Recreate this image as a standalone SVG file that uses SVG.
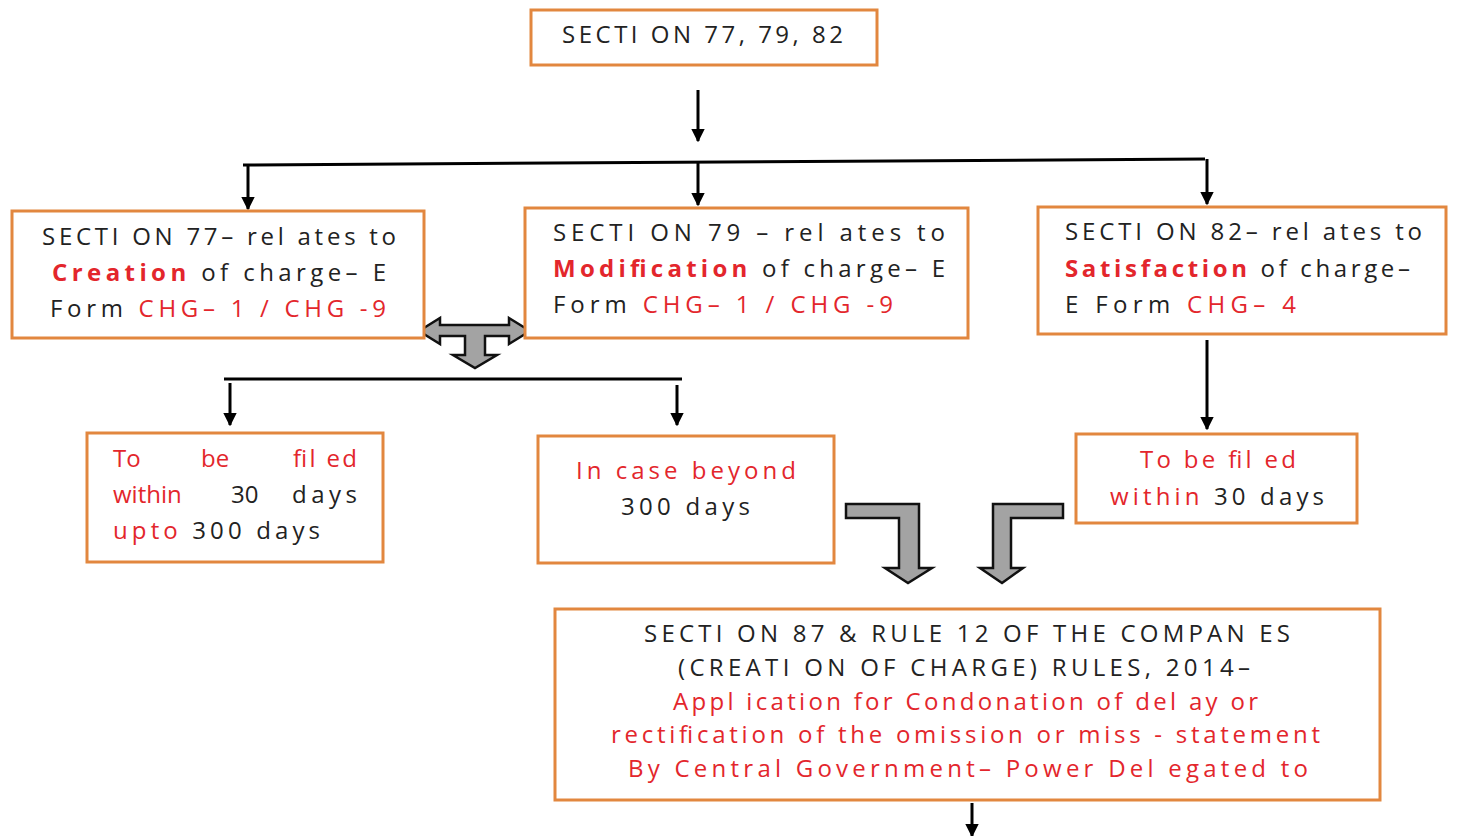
<svg xmlns="http://www.w3.org/2000/svg" width="1458" height="836" viewBox="0 0 1458 836">
<style>
.box{fill:#fff;stroke:#e2873f;stroke-width:3}
.t{font-family:"Open Sans","Liberation Sans",sans-serif;font-size:24px;fill:#222}
.r{fill:#e3262c}
.b{font-weight:bold}
.ln{stroke:#000;stroke-width:3;fill:none}
.ar{stroke:#000;stroke-width:3;fill:none;marker-end:url(#ah)}
.big{fill:#a3a3a3;stroke:#111;stroke-width:2.5;stroke-linejoin:miter}
</style>
<defs>
<marker id="ah" viewBox="0 0 10 10" refX="9" refY="5" markerWidth="4.5" markerHeight="4.5" orient="auto" markerUnits="strokeWidth">
<path d="M0,0 L10,5 L0,10 z" fill="#000"/>
</marker>
</defs>
<rect width="1458" height="836" fill="#fff"/>

<g id="connectors">
<line class="ar" x1="698" y1="90" x2="698" y2="141"/>
<line class="ln" x1="243" y1="165" x2="1205" y2="159"/>
<line class="ar" x1="248" y1="165" x2="248" y2="209"/>
<line class="ar" x1="698" y1="162" x2="698" y2="205"/>
<line class="ar" x1="1207" y1="159" x2="1207" y2="204"/>
<line class="ln" x1="224" y1="379" x2="682" y2="379"/>
<line class="ar" x1="230" y1="383" x2="230" y2="425"/>
<line class="ar" x1="677" y1="385" x2="677" y2="425"/>
<line class="ar" x1="1207" y1="340" x2="1207" y2="429"/>
<line class="ar" x1="972" y1="803" x2="972" y2="836"/>
<path class="big" d="M419,331 L440,318 L440,325 L509,325 L509,318 L530,331 L509,344 L509,336 L485,336 L485,355 L497,355 L475,368 L453,355 L465,355 L465,336 L440,336 L440,344 Z"/>
<path class="big" d="M846,504 L919,504 L919,568 L932,568 L908,583 L885,568 L899,568 L899,518 L846,518 Z"/>
<path class="big" d="M1063,504 L1063,518 L1011,518 L1011,568 L1023,568 L1002,583 L980,568 L993,568 L993,504 Z"/>
</g>

<g id="n_top">
<rect class="box" x="531" y="10" width="346" height="55"/>
<text class="t" x="562" y="43" textLength="281" lengthAdjust="spacing">SECTI ON 77, 79, 82</text>
</g>

<g id="n_s77">
<rect class="box" x="12" y="211" width="412" height="127"/>
<text class="t" x="42" y="245" textLength="354" lengthAdjust="spacing">SECTI ON 77– rel ates to</text>
<text class="t" x="52" y="281" textLength="334" lengthAdjust="spacing"><tspan class="r b">Creation</tspan> of charge– E</text>
<text class="t" x="50" y="317" textLength="336" lengthAdjust="spacing">Form <tspan class="r">CHG– 1 / CHG -9</tspan></text>
</g>

<g id="n_s79">
<rect class="box" x="525" y="208" width="443" height="130"/>
<text class="t" x="553" y="241" textLength="392" lengthAdjust="spacing">SECTI ON  79  –  rel ates  to</text>
<text class="t" x="553" y="277" textLength="392" lengthAdjust="spacing"><tspan class="r b">Modification</tspan> of charge– E</text>
<text class="t" x="553" y="313" textLength="340" lengthAdjust="spacing">Form <tspan class="r">CHG– 1 / CHG -9</tspan></text>
</g>

<g id="n_s82">
<rect class="box" x="1038" y="207" width="408" height="127"/>
<text class="t" x="1065" y="240" textLength="357" lengthAdjust="spacing">SECTI ON 82– rel ates to</text>
<text class="t" x="1065" y="277" textLength="345" lengthAdjust="spacing"><tspan class="r b">Satisfaction</tspan> of charge–</text>
<text class="t" x="1065" y="313" textLength="231" lengthAdjust="spacing">E Form <tspan class="r">CHG– 4</tspan></text>
</g>

<g id="n_30_300">
<rect class="box" x="87" y="433" width="296" height="129"/>
<text class="t r" y="467"><tspan x="113">To</tspan><tspan x="201">be</tspan><tspan x="293" textLength="64" lengthAdjust="spacing">fil ed</tspan></text>
<text class="t" y="503"><tspan class="r" x="113">within</tspan><tspan x="231">30</tspan><tspan x="292" textLength="65" lengthAdjust="spacing">days</tspan></text>
<text class="t" x="113" y="539" textLength="207" lengthAdjust="spacing"><tspan class="r">upto</tspan> 300 days</text>
</g>

<g id="n_beyond">
<rect class="box" x="538" y="436" width="296" height="127"/>
<text class="t r" x="576" y="479" textLength="220" lengthAdjust="spacing">In case beyond</text>
<text class="t" x="621" y="515" textLength="129" lengthAdjust="spacing">300 days</text>
</g>

<g id="n_30">
<rect class="box" x="1076" y="434" width="281" height="89"/>
<text class="t r" x="1140" y="468" textLength="156" lengthAdjust="spacing">To be fil ed</text>
<text class="t" x="1110" y="505" textLength="214" lengthAdjust="spacing"><tspan class="r">within</tspan> 30 days</text>
</g>

<g id="n_s87">
<rect class="box" x="555" y="609" width="825" height="191"/>
<text class="t" x="644" y="642" textLength="646" lengthAdjust="spacing">SECTI ON 87 &amp; RULE 12 OF THE COMPAN ES</text>
<text class="t" x="678" y="676" textLength="572" lengthAdjust="spacing">(CREATI ON OF CHARGE) RULES, 2014–</text>
<text class="t r" x="673" y="710" textLength="585" lengthAdjust="spacing">Appl ication for Condonation of del ay or</text>
<text class="t r" x="611" y="743" textLength="709" lengthAdjust="spacing">rectification of the omission or miss - statement</text>
<text class="t r" x="628" y="777" textLength="680" lengthAdjust="spacing">By Central Government– Power Del egated to</text>
</g>
</svg>
